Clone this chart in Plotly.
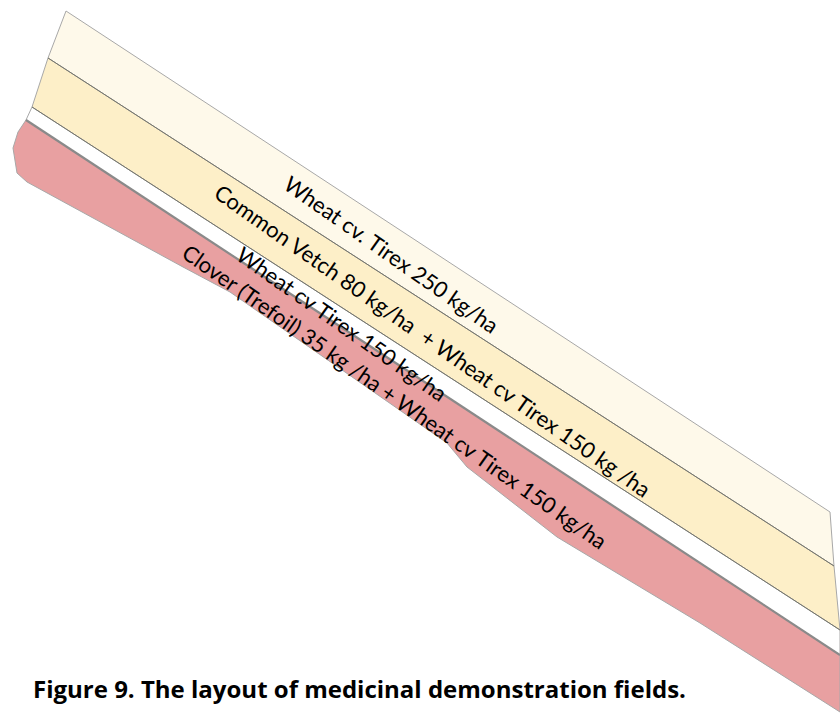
import plotly.graph_objects as go

W, H = 840, 715

# Field strips (outline vertices in image pixel units)
strip_names = ["Wheat 250", "Vetch + Wheat", "Wheat 150 (gap)", "Clover + Wheat"]
strip1_x = [66, 830, 834, 48]
strip1_y = [11, 512, 566, 58]
strip2_x = [48, 834, 840, 32]
strip2_y = [58, 566, 630, 107]
strip3_x = [32, 840, 840, 26]
strip3_y = [107, 630, 655, 120]
strip4_x = [26, 840, 840, 700, 557, 467, 447, 230, 183, 27, 17, 13, 18]
strip4_y = [120, 655, 712, 623, 537, 467, 443, 292, 267, 182, 173, 148, 132]

strip_colors = ["#FEF9EA", "#FDEFC8", "#FFFFFF", "#E8A0A1"]

# Labels
labels = [
    "Wheat cv. Tirex 250 kg/ha",
    "Common Vetch 80 kg/ha  + Wheat cv Tirex 150 kg /ha",
    "Wheat cv Tirex 150 kg/ha",
    "Clover (Trefoil) 35 kg /ha + Wheat cv Tirex 150 kg/ha",
]
label_x = [392, 433, 342, 395]
label_y = [254, 340, 323, 396]

caption = "Figure 9. The layout of medicinal demonstration fields."

fig = go.Figure()

xs = [strip1_x, strip2_x, strip3_x, strip4_x]
ys = [strip1_y, strip2_y, strip3_y, strip4_y]
for name, sx, sy, col in zip(strip_names, xs, ys, strip_colors):
    fig.add_trace(go.Scatter(
        x=sx + [sx[0]], y=sy + [sy[0]], mode="lines", fill="toself",
        fillcolor=col, line=dict(color="#A8A8A8", width=1),
        name=name, hoverinfo="skip", showlegend=False,
    ))

# darker edge along top of clover strip
fig.add_trace(go.Scatter(
    x=[strip4_x[0], strip4_x[1]], y=[strip4_y[0], strip4_y[1]], mode="lines",
    line=dict(color="#8A8A8A", width=2.2), hoverinfo="skip", showlegend=False,
))
# edges between strips
for sx, sy in [(strip2_x, strip2_y), (strip3_x, strip3_y)]:
    fig.add_trace(go.Scatter(
        x=[sx[0], sx[1]], y=[sy[0], sy[1]], mode="lines",
        line=dict(color="#75756A", width=1), hoverinfo="skip", showlegend=False,
    ))

for txt, lx, ly in zip(labels, label_x, label_y):
    fig.add_annotation(
        x=lx, y=ly, xref="x", yref="y", text=txt, showarrow=False,
        textangle=35, font=dict(family="Lato", size=22, color="#000000"),
    )

fig.add_annotation(
    x=31, y=688, xref="x", yref="y", text="<b>" + caption + "</b>",
    showarrow=False, xanchor="left", yanchor="middle",
    font=dict(family="Open Sans", size=24, color="#000000"),
)

fig.update_xaxes(range=[0, W], visible=False, fixedrange=True)
fig.update_yaxes(range=[H, 0], visible=False, fixedrange=True)
fig.update_layout(
    width=W, height=H, margin=dict(l=0, r=0, t=0, b=0),
    paper_bgcolor="white", plot_bgcolor="white",
)

fig.write_html(
    "out.html",
    config={"displayModeBar": False},
    post_script="document.body.style.margin='0';document.body.style.overflow='hidden';",
)
